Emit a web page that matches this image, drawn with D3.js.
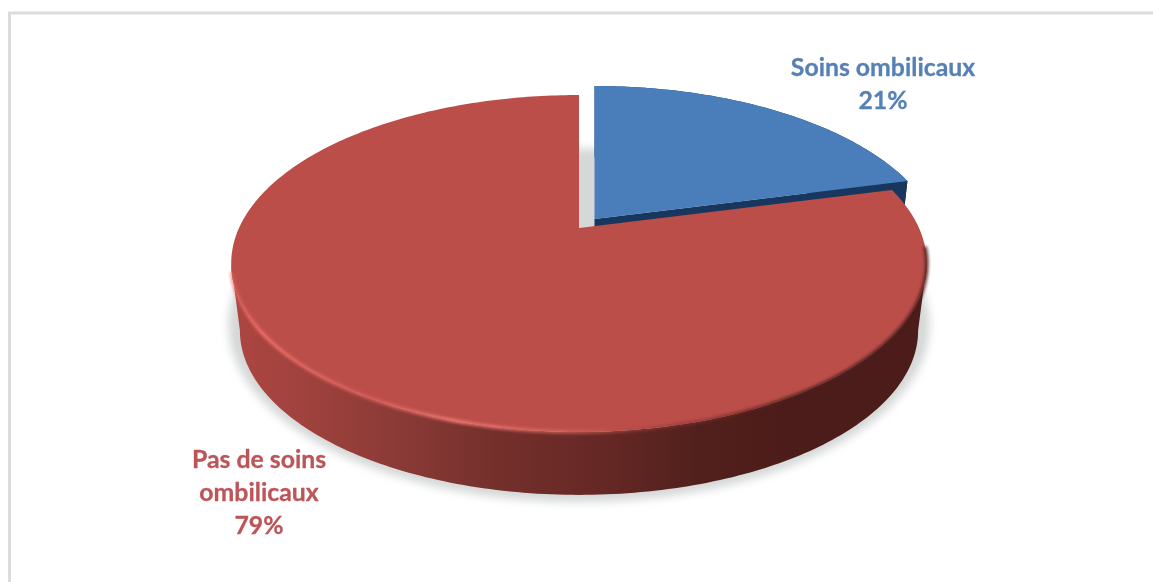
<!DOCTYPE html>
<html>
<head>
<meta charset="utf-8">
<script src="https://cdn.jsdelivr.net/npm/d3@7/dist/d3.min.js"></script>
<style>
  html, body { margin: 0; padding: 0; background: #fff; }
  svg { display: block; }
  text { font-family: Lato, "Open Sans", sans-serif; font-weight: 700; text-anchor: middle; }
</style>
</head>
<body>
<svg id="chart" width="1153" height="582"></svg>
<script>
// Shares of newborn cord care
const categories = ["Soins ombilicaux", "Pas de soins ombilicaux"];
const shares = [21, 79];
const labelLines = [["Soins ombilicaux", "21%"], ["Pas de soins", "ombilicaux", "79%"]];
const labelAnchors = [[883, 76], [259, 468]];
const topColors = ["#4a7ebb", "#bc4e4a"];
const sideColors = ["#17375e", "#5a2220"];
const textColors = ["#5680b6", "#bd5558"];

const width = 1153, height = 582;
const svg = d3.select("#chart");
const defs = svg.append("defs");

// Perspective view of a flat disc: u to the right, v towards the back
const view = { cx: 579, cy: 228, sx: 340, sy: 161, persp: 0.2107 };
function project(u, v, layer) {
  const d = 1 + view.persp * v;
  return [
    view.cx + layer.scaleX * view.sx * u / d,
    view.cy + layer.dy - layer.scaleY * view.sy * v / d
  ];
}
const topLayer = { scaleX: 1, scaleY: 1, dy: 0 };
const baseLayer = { scaleX: 0.975, scaleY: 0.975, dy: 68 };
const shadowLayer = { scaleX: 1.008, scaleY: 1.05, dy: 60 };

const pie = d3.pie().value(d => d).sort(null);
const arcs = pie(shares);
// Screen displacement of each pulled-out slice
const pullOut = [[15.5, -9], [0, 0]];
// Rim angles where the projected disc is widest: the wall's silhouette runs between them
const widest = Math.acos(-view.persp);
const wallSpan = [[arcs[0].startAngle, arcs[0].endAngle], [widest, 2 * Math.PI - widest]];
const line = d3.line();

function rimPoints(a0, a1, layer) {
  const n = Math.max(2, Math.ceil((a1 - a0) * 60));
  return d3.range(n + 1).map(i => {
    const a = a0 + (a1 - a0) * i / n;
    return project(Math.sin(a), Math.cos(a), layer);
  });
}
function wedgePath(i, layer) {
  return line([project(0, 0, layer),
    ...rimPoints(arcs[i].startAngle, arcs[i].endAngle, layer)]) + "Z";
}
// Outer wall between the top rim and the base rim
function wallPath(i) {
  const [a0, a1] = wallSpan[i];
  const upper = rimPoints(a0, a1, topLayer);
  const lower = rimPoints(a0, a1, baseLayer);
  return line([...upper, ...lower.reverse()]) + "Z";
}
// Cut face running from the slice's centre out to its closing edge
function cutPath(i) {
  const a = arcs[i].endAngle;
  const rimA = [Math.sin(a), Math.cos(a)];
  return line([project(0, 0, topLayer), project(rimA[0], rimA[1], topLayer),
    project(rimA[0], rimA[1], baseLayer), project(0, 0, baseLayer)]) + "Z";
}

function blurFilter(id, amount) {
  defs.append("filter").attr("id", id)
    .attr("x", "-10%").attr("y", "-10%").attr("width", "120%").attr("height", "120%")
    .append("feGaussianBlur").attr("stdDeviation", amount);
}
blurFilter("shadowBlur", 4.5);
blurFilter("bevelBlur", 1.5);
blurFilter("textShade", 0.25);

// Side wall shading across the drum
const wall = defs.append("linearGradient").attr("id", "wallShade")
  .attr("gradientUnits", "userSpaceOnUse")
  .attr("x1", 231).attr("x2", 927).attr("y1", 0).attr("y2", 0);
[[0, "#ad4642"], [0.1, "#a1423e"], [0.243, "#8a3a36"], [0.386, "#742f2b"],
 [0.53, "#662825"], [0.67, "#52201c"], [0.8, "#4c1c1a"], [1, "#4b1c1a"]].forEach(([o, c]) =>
  wall.append("stop").attr("offset", o).attr("stop-color", c));

const glint = defs.append("linearGradient").attr("id", "rimGlint")
  .attr("gradientUnits", "userSpaceOnUse")
  .attr("x1", 231).attr("x2", 927).attr("y1", 0).attr("y2", 0);
[[0, "#dc5f5a", 0.6], [0.04, "#ee6c68", 1], [0.2, "#e0635e", 0.8], [0.32, "#ee7671", 1],
 [0.5, "#d96662", 0.7], [0.62, "#8c3330", 0.55], [0.8, "#4b1c1a", 0.85], [1, "#4b1c1a", 0.9]].forEach(([o, c, a]) =>
  glint.append("stop").attr("offset", o).attr("stop-color", c).attr("stop-opacity", a));

// Page frame
svg.append("path")
  .attr("d", `M9.5,${height}V13H${width}`)
  .attr("fill", "none").attr("stroke", "#dcdcdc").attr("stroke-width", 3);

// Soft contact shadow on the ground
svg.append("path")
  .attr("d", line(rimPoints(0, 2 * Math.PI, shadowLayer)) + "Z")
  .attr("fill", "#d6d8d8")
  .attr("filter", "url(#shadowBlur)");

// Blue slice: walls, then top face, shifted out of the drum
const blue = svg.append("g").attr("transform", `translate(${pullOut[0]})`);
blue.append("path").attr("d", wallPath(0)).attr("fill", sideColors[0]);
blue.append("path").attr("d", cutPath(0)).attr("fill", sideColors[0]);
blue.append("path").attr("d", wedgePath(0, topLayer)).attr("fill", topColors[0]);

// Red slice: side wall, top face and the soft rim
svg.append("path").attr("d", wallPath(1)).attr("fill", "url(#wallShade)");
svg.append("path").attr("d", wedgePath(1, topLayer)).attr("fill", topColors[1]);
svg.append("path")
  .attr("d", line(rimPoints(wallSpan[1][0] - 0.1, wallSpan[1][1] - 0.05, topLayer)))
  .attr("fill", "none").attr("stroke", "url(#rimGlint)").attr("stroke-width", 3.5)
  .attr("filter", "url(#bevelBlur)");

// Slice labels
labelLines.forEach((rows, i) => {
  const t = svg.append("text").attr("fill", textColors[i])
    .attr("font-size", 24.8).attr("stroke", textColors[i]).attr("stroke-width", 0.3)
    .attr("filter", "url(#textShade)");
  rows.forEach((row, r) => {
    t.append("tspan").attr("x", labelAnchors[i][0])
      .attr("y", labelAnchors[i][1] + r * 33).text(row);
  });
});
</script>
</body>
</html>
